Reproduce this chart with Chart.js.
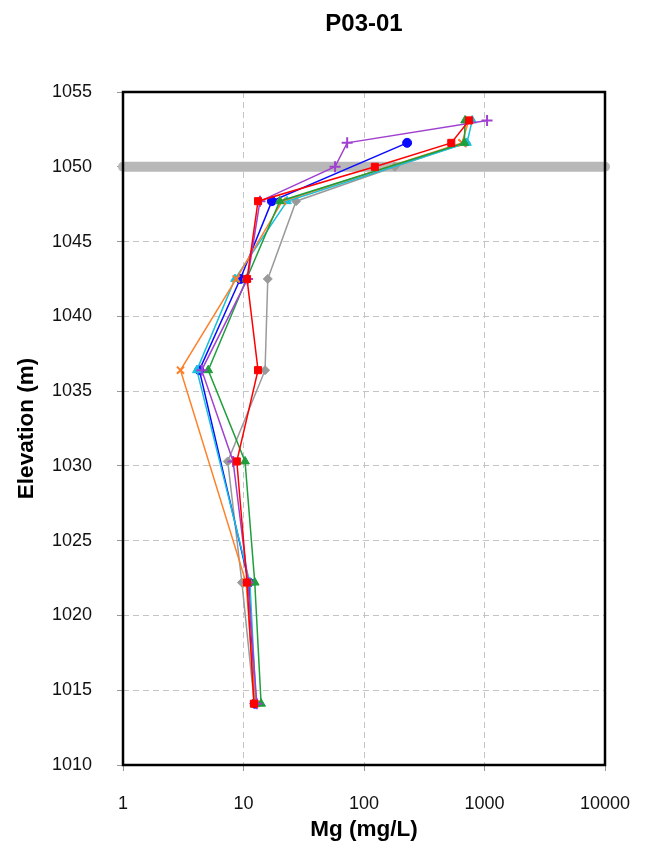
<!DOCTYPE html>
<html>
<head>
<meta charset="utf-8">
<title>P03-01</title>
<script src="https://cdn.jsdelivr.net/npm/chart.js@4.4.0/dist/chart.umd.min.js"></script>
<style>
    html, body { margin: 0; padding: 0; background: #fff; }
    #wrap { width: 645px; height: 852px; }
</style>
</head>
<body>
<div id="wrap"><canvas id="chart" width="645" height="852"></canvas></div>
<script>
// sampling elevations (m), top to bottom
const elevations = [1053.1, 1051.6, 1050.0, 1047.7, 1042.5, 1036.4, 1030.3, 1022.2, 1014.1];

// Mg (mg/L) per sampling round, null = no sample at that elevation
const mgBlue   = [null, 228, null, 17.2, 9.4, 4.3, null, 11.1, 12.4];
const mgRed    = [745, 530, 123, 13.2, 10.7, 13.2, 8.8, 10.7, 12.2];
const mgGreen  = [690, 680, null, 20.0, 10.6, 5.1, 10.3, 12.4, 14.0];
const mgCyan   = [790, 716, null, 23.0, 8.5, 4.1, null, 11.3, 12.7];
const mgOrange = [740, 650, null, 21.0, 8.7, 3.0, null, 10.5, 12.5];
const mgPurple = [1050, 72.5, 57.5, 13.7, 10.8, 4.5, 8.2, 10.9, 12.9];
const mgGray   = [null, 700, 180, 27.3, 15.9, 15.1, 7.4, 9.7, 12.3];

// water level marker
const waterLevel = 1050;

const xTicks = [1, 10, 100, 1000, 10000];
const yMin = 1010, yMax = 1055, yStep = 5;

function points(values) {
    const pts = [];
    values.forEach((v, i) => {
        if (v !== null) {
            pts.push({ x: v, y: elevations[i] });
        }
    });
    return pts;
}

function series(values, color, style, radius, width) {
    return {
        data: points(values),
        borderColor: color,
        backgroundColor: color,
        pointBorderColor: color,
        pointBackgroundColor: color,
        pointStyle: style,
        pointRadius: radius,
        pointBorderWidth: width || 1,
        borderWidth: 1.5,
        showLine: true,
        order: 1,
    };
}

const boxBorder = {
    id: "boxBorder",
    afterDraw(chart) {
        const { ctx, chartArea } = chart;
        ctx.save();
        ctx.strokeStyle = "#000";
        ctx.lineWidth = 2.5;
        ctx.strokeRect(chartArea.left, chartArea.top, chartArea.right - chartArea.left, chartArea.bottom - chartArea.top);
        ctx.restore();
    },
};

const tickFont = { family: "'Liberation Sans', Arial, sans-serif", size: 18 };
const titleFont = { family: "'Liberation Sans', Arial, sans-serif", size: 22.5, weight: "bold" };

// first dataset is drawn on top
new Chart(document.getElementById("chart").getContext("2d"), {
    type: "scatter",
    data: {
        datasets: [
            series(mgRed, "#ff0000", "rect", 5),
            series(mgPurple, "#a040d0", "cross", 5.5, 2),
            series(mgGreen, "#1f9e3c", "triangle", 5),
            series(mgOrange, "#ff7f27", "crossRot", 5, 2),
            series(mgCyan, "#18c0dc", "triangle", 5),
            series(mgBlue, "#0a0aff", "circle", 4.5),
            series(mgGray, "#9a9a9a", "rectRot", 4.5),
            {
                data: [{ x: xTicks[0], y: waterLevel }, { x: xTicks[xTicks.length - 1], y: waterLevel }],
                borderColor: "#b8b8b8",
                borderWidth: 10,
                borderCapStyle: "round",
                pointRadius: 0,
                showLine: true,
                clip: false,
                order: 10,
            },
        ],
    },
    options: {
        responsive: false,
        animation: false,
        devicePixelRatio: 1,
        layout: { padding: { top: 0, right: 40, bottom: 0, left: 0 } },
        plugins: {
            legend: { display: false },
            tooltip: { enabled: false },
            title: {
                display: true,
                text: "P03-01",
                fullSize: false,
                color: "#000",
                font: { family: "'Liberation Sans', Arial, sans-serif", size: 24, weight: "bold" },
                padding: { top: 10, bottom: 53.2 },
            },
        },
        scales: {
            x: {
                type: "logarithmic",
                position: "bottom",
                min: xTicks[0],
                max: xTicks[xTicks.length - 1],
                afterBuildTicks: (scale) => {
                    scale.ticks = xTicks.map((v) => ({ value: v }));
                },
                afterFit: (scale) => {
                    scale.height = 87;
                    scale.paddingLeft = 0;
                    scale.paddingRight = 0;
                },
                ticks: {
                    callback: (v) => String(v),
                    font: tickFont,
                    color: "#111",
                    padding: 22,
                    autoSkip: false,
                    maxRotation: 0,
                },
                grid: {
                    color: (ctx) => (ctx.tick && (ctx.tick.value === xTicks[0] || ctx.tick.value === xTicks[xTicks.length - 1]) ? "rgba(0,0,0,0)" : "#c4c4c4"),
                    tickColor: "#999",
                    tickLength: 6,
                    lineWidth: 1,
                },
                border: { display: false, dash: [6, 4] },
                title: {
                    display: true,
                    text: "Mg (mg/L)",
                    color: "#000",
                    font: titleFont,
                    padding: { top: 0, bottom: 9 },
                },
            },
            y: {
                type: "linear",
                position: "left",
                min: yMin,
                max: yMax,
                afterFit: (scale) => {
                    scale.width = 123;
                },
                ticks: {
                    stepSize: yStep,
                    callback: (v) => String(v),
                    font: tickFont,
                    color: "#111",
                    padding: 25,
                },
                grid: {
                    color: (ctx) => (ctx.tick && (ctx.tick.value === yMin || ctx.tick.value === yMax) ? "rgba(0,0,0,0)" : "#c4c4c4"),
                    tickColor: "#999",
                    tickLength: 6,
                    lineWidth: 1,
                },
                border: { display: false, dash: [6, 4] },
                title: {
                    display: true,
                    text: "Elevation (m)",
                    color: "#000",
                    font: titleFont,
                    padding: { top: 13, bottom: 0 },
                },
            },
        },
    },
    plugins: [boxBorder],
});
</script>
</body>
</html>
